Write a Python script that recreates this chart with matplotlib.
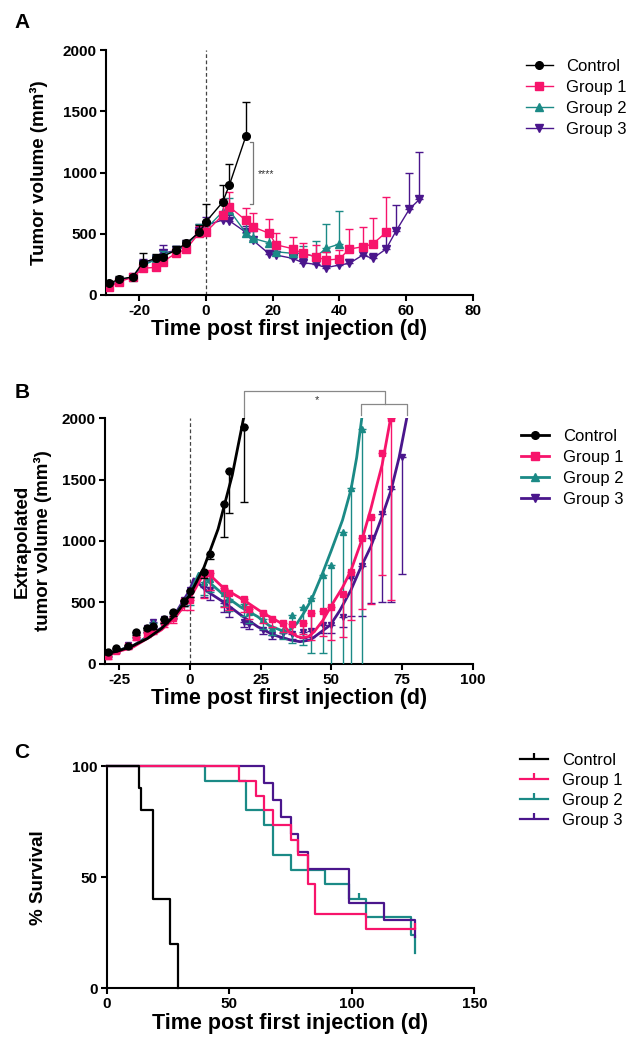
import numpy as np
import matplotlib
matplotlib.use('Agg')
import matplotlib.pyplot as plt
from matplotlib.lines import Line2D
from matplotlib.path import Path

plt.rcParams['font.family'] = ['Liberation Sans', 'DejaVu Sans']
plt.rcParams['axes.unicode_minus'] = False

# colours
c_ctrl = '#000000'
c_g1 = '#F7146B'
c_g2 = '#1B8A86'
c_g3 = '#4A168C'

# ---------------- panel A data (mean and top of error bar) ----------------
t_ctrl_a = [-29, -26, -22, -19, -15, -13, -9, -6, -2, 0, 5, 7, 12]
ctrl_a = [95, 130, 147, 264, 299, 313, 367, 421, 511, 598, 758, 897, 1300]
ctrl_a_hi = [115, 155, 165, 345, 335, 330, 400, 445, 570, 742, 897, 1066, 1577]

t_g1_a = [-29, -26, -22, -19, -15, -13, -9, -6, -2, 0, 5, 7, 12, 14, 19, 21, 26, 29, 33, 36, 40, 43, 47, 50, 54]
g1_a = [63, 109, 144, 218, 226, 272, 340, 373, 508, 514, 652, 720, 609, 557, 503, 410, 378, 340, 312, 285, 294, 375, 394, 416, 511]
g1_a_hi = [90, 130, 165, 240, 255, 300, 375, 410, 560, 560, 780, 840, 712, 666, 617, 503, 470, 427, 408, 355, 370, 536, 552, 626, 802]

t_g2_a = [-29, -26, -22, -19, -15, -13, -9, -6, -2, 0, 5, 7, 12, 14, 19, 21, 26, 29, 33, 36, 40]
g2_a = [80, 120, 150, 240, 290, 330, 360, 400, 520, 540, 680, 693, 505, 463, 426, 353, 340, 340, 312, 381, 416]
g2_a_hi = [100, 145, 175, 275, 330, 360, 400, 440, 580, 600, 760, 790, 590, 560, 480, 420, 400, 400, 443, 577, 688]

t_g3_a = [-29, -26, -22, -19, -15, -13, -9, -6, -2, 0, 5, 7, 12, 14, 19, 21, 26, 29, 33, 36, 40, 43, 47, 50, 54, 57, 61, 64]
g3_a = [75, 115, 150, 250, 290, 340, 365, 410, 520, 570, 612, 606, 511, 449, 334, 326, 299, 264, 250, 223, 245, 258, 326, 299, 375, 522, 701, 780]
g3_a_hi = [100, 140, 170, 290, 330, 408, 400, 450, 580, 640, 680, 650, 560, 520, 370, 360, 330, 300, 280, 250, 280, 290, 360, 340, 520, 734, 993, 1166]

# ---------------- panel B data (mean and bottom of error bar) ----------------
t_ctrl_b = [-29, -26, -22, -19, -15, -13, -9, -6, -2, 0, 5, 7, 12, 14, 19]
ctrl_b = [91, 124, 145, 255, 292, 306, 360, 418, 510, 592, 750, 894, 1302, 1571, 1928]
ctrl_b_lo = [80, 110, 130, 235, 270, 285, 330, 390, 470, 540, 700, 850, 1035, 1231, 1316]

t_g1_b = [-29, -26, -22, -19, -15, -13, -9, -6, -2, 0, 5, 7, 12, 14, 19, 21, 26, 29, 33, 36, 40, 43, 47, 50, 54, 57, 61, 64, 68, 71]
g1_b = [59, 104, 144, 219, 250, 272, 340, 369, 508, 518, 731, 741, 614, 573, 524, 442, 410, 361, 328, 320, 328, 410, 428, 459, 567, 750, 1027, 1193, 1716, 2000]
g1_b_lo = [40, 85, 120, 190, 220, 240, 300, 330, 440, 440, 532, 600, 464, 440, 420, 360, 330, 300, 260, 250, 240, 192, 227, 192, 219, 355, 445, 483, 720, 520]

t_g2_b = [-29, -26, -22, -19, -15, -13, -9, -6, -2, 0, 5, 7, 12, 14, 19, 21, 26, 29, 33, 36, 40, 43, 47, 50, 54, 57, 61]
g2_b = [80, 120, 150, 240, 290, 330, 360, 400, 520, 540, 668, 690, 573, 530, 482, 420, 361, 287, 276, 396, 464, 532, 722, 804, 1076, 1430, 1912]
g2_b_lo = [60, 100, 130, 210, 260, 300, 320, 360, 470, 480, 560, 580, 470, 430, 390, 330, 280, 230, 200, 165, 150, 83, 83, -200, -200, -200, -200]

t_g3_b = [-29, -26, -22, -19, -15, -13, -9, -6, -2, 0, 5, 7, 12, 14, 19, 21, 26, 29, 33, 36, 40, 43, 47, 50, 54, 57, 61, 64, 68, 71, 75]
g3_b = [75, 115, 150, 250, 290, 340, 365, 410, 520, 600, 627, 600, 491, 440, 341, 320, 273, 233, 250, 240, 260, 268, 314, 314, 382, 700, 796, 1027, 1220, 1420, 1688]
g3_b_lo = [55, 95, 130, 220, 260, 300, 330, 370, 470, 540, 540, 520, 420, 380, 300, 280, 240, 200, 210, 200, 210, 220, 250, 250, 300, 390, 388, 490, 500, 500, 730]

# fitted (extrapolation) curves
t_ctrl_fit = [-30, -25, -20, -15, -10, -5, 0, 5, 10, 15, 19]
ctrl_fit = [75, 105, 146, 204, 286, 400, 560, 784, 1097, 1536, 2000]
t_g1_fit = [-30, -20, -10, -5, 0, 5.5, 12, 19, 26, 33, 35, 38, 40, 42, 44, 47, 50, 54, 57, 61, 64, 66, 68, 71]
g1_fit = [65, 135, 275, 380, 530, 757, 614, 518, 410, 320, 260, 220, 210, 220, 260, 350, 470, 620, 760, 1020, 1260, 1443, 1620, 2000]
t_g2_fit = [-30, -20, -10, -5, 0, 3.2, 12, 18, 24, 28, 32, 34.4, 36, 38, 40, 43, 47, 50, 54, 57, 59, 60.8]
g2_fit = [70, 145, 285, 400, 570, 736, 559, 460, 382, 310, 273, 262, 285, 330, 400, 520, 740, 920, 1170, 1420, 1680, 2000]
t_g3_fit = [-30, -20, -10, -5, 0, 1.4, 6, 12, 18, 24, 29.6, 35.5, 39, 42.6, 45, 49.7, 53, 57, 60, 64, 68, 71.2, 74, 76.7]
g3_fit = [70, 145, 290, 410, 600, 690, 590, 500, 396, 300, 233, 192, 178, 192, 233, 314, 430, 600, 760, 953, 1200, 1416, 1680, 2000]

# ---------------- panel C data (Kaplan-Meier steps) ----------------
t_ctrl_s = [0, 13, 14, 19, 26, 29]
ctrl_s = [100, 90, 80, 40, 20, 0]
t_g1_s = [0, 54, 61, 64, 68, 75, 78, 82, 85, 106, 126]
g1_s = [100, 93.3, 86.7, 80, 73.3, 66.7, 60, 46.7, 33.3, 26.7, 26.7]
t_g2_s = [0, 40, 57, 64, 68, 75, 89, 99, 106, 124, 126]
g2_s = [100, 93.3, 80, 73.3, 60, 53.3, 46.7, 40, 32, 24, 16]
t_g3_s = [0, 64, 68, 71, 75, 78, 82, 99, 113, 126]
g3_s = [100, 92.3, 84.6, 76.9, 69.2, 61.5, 53.8, 38.5, 30.8, 23.1]
# censored animals
cens_t = [126, 103]
cens_s = [26.7, 40]
cens_c = [c_g1, c_g2]

labels = ['Control', 'Group 1', 'Group 2', 'Group 3']
cols = [c_ctrl, c_g1, c_g2, c_g3]
marks = ['o', 's', '^', 'v']

W, H = 641, 1050
fig = plt.figure(figsize=(W / 100, H / 100), dpi=100)


def px_axes(l, t, r, b):
    return fig.add_axes([l / W, 1 - b / H, (r - l) / W, (b - t) / H])


def style(ax):
    for s in ['top', 'right']:
        ax.spines[s].set_visible(False)
    for s in ['left', 'bottom']:
        ax.spines[s].set_linewidth(1.5)
    ax.tick_params(width=1.5, length=4.5, labelsize=11, pad=2)


def bold_ticks(ax):
    for lab in ax.get_xticklabels() + ax.get_yticklabels():
        lab.set_fontweight('bold')


xlab = 'Time post first injection (d)'
leg_kw = dict(loc='upper left', frameon=False, prop={'size': 12}, handletextpad=0.8, labelspacing=0.36)

# ---------------- A ----------------
axA = px_axes(106, 50, 472.7, 295)
style(axA)
series_a = [(t_g3_a, g3_a, g3_a_hi, 3), (t_g2_a, g2_a, g2_a_hi, 2), (t_g1_a, g1_a, g1_a_hi, 1), (t_ctrl_a, ctrl_a, ctrl_a_hi, 0)]
for t, y, hi, k in series_a:
    y = np.array(y)
    err = [np.zeros(len(y)), np.array(hi) - y]
    axA.errorbar(t, y, yerr=err, color=cols[k], marker=marks[k], ms=5.5, lw=1,
                 elinewidth=1, capsize=3, capthick=1, zorder=3 + (3 - k))
axA.axvline(0, color='#444444', lw=0.9, ls=(0, (3, 2)), zorder=1)
axA.plot([13.3, 14, 14, 13.3], [1250, 1250, 740, 740], color='#777777', lw=0.9)
axA.text(15.5, 990, '****', fontsize=7.5, ha='left', va='center', color='#333333')
axA.set_xlim(-30, 80)
axA.set_ylim(0, 2000)
axA.set_xticks([-20, 0, 20, 40, 60, 80])
axA.set_yticks([0, 500, 1000, 1500, 2000])
axA.set_xlabel(xlab, fontsize=15.5, fontweight='bold', labelpad=1)
axA.set_ylabel('Tumor volume (mm³)', fontsize=13.5, fontweight='bold')
axA.yaxis.set_label_coords(-0.158, 0.5)
bold_ticks(axA)

hA = [Line2D([], [], color=cols[k], marker=marks[k], ms=5.5, lw=1) for k in range(4)]
fig.legend(hA, labels, bbox_to_anchor=(511 / W, 1 - 44 / H), handlelength=1.6, **leg_kw)

# ---------------- B ----------------
axB = px_axes(105, 418.3, 472.6, 663.5)
style(axB)
series_b = [(t_g3_b, g3_b, g3_b_lo, t_g3_fit, g3_fit, 3), (t_g2_b, g2_b, g2_b_lo, t_g2_fit, g2_fit, 2),
            (t_g1_b, g1_b, g1_b_lo, t_g1_fit, g1_fit, 1), (t_ctrl_b, ctrl_b, ctrl_b_lo, t_ctrl_fit, ctrl_fit, 0)]
for t, y, lo, tf, yf, k in series_b:
    y = np.array(y)
    err = [y - np.array(lo), np.zeros(len(y))]
    axB.errorbar(t, y, yerr=err, color=cols[k], marker=marks[k], ms=5, ls='none',
                 elinewidth=1, capsize=3, capthick=1, zorder=3 + (3 - k))
    axB.plot(tf, yf, color=cols[k], lw=2, zorder=3 + (3 - k))
axB.axvline(0, color='#444444', lw=0.9, ls=(0, (3, 2)), zorder=1)
axB.plot([19, 19, 69.1, 69.1], [2000, 2219, 2219, 2118], color='#888888', lw=0.9, clip_on=False)
axB.plot([60.6, 60.6, 76.7, 76.7], [2029, 2118, 2118, 2029], color='#888888', lw=0.9, clip_on=False)
axB.text(45, 2150, '*', fontsize=8, ha='center', va='center', color='#333333')
axB.set_xlim(-30, 100)
axB.set_ylim(0, 2000)
axB.set_xticks([-25, 0, 25, 50, 75, 100])
axB.set_yticks([0, 500, 1000, 1500, 2000])
axB.set_xlabel(xlab, fontsize=15.5, fontweight='bold', labelpad=1)
axB.set_ylabel('Extrapolated\ntumor volume (mm³)', fontsize=13.5, fontweight='bold', linespacing=1.2)
axB.yaxis.set_label_coords(-0.145, 0.5)
bold_ticks(axB)

hB = [Line2D([], [], color=cols[k], marker=marks[k], ms=5.5, lw=2) for k in range(4)]
fig.legend(hB, labels, bbox_to_anchor=(506 / W, 1 - 414 / H), handlelength=1.7, **leg_kw)

# ---------------- C ----------------
axC = px_axes(106.7, 766, 474.3, 988.3)
style(axC)
tick = Path([(0, 0), (0, 1)], [Path.MOVETO, Path.LINETO])
series_c = [(t_g2_s, g2_s, 2, 2), (t_g3_s, g3_s, 3, 3), (t_g1_s, g1_s, 1, 4), (t_ctrl_s, ctrl_s, 0, 5)]
for t, s, k, z in series_c:
    axC.step(t, s, where='post', color=cols[k], lw=1.6, zorder=z, clip_on=False)
for t, s, c in zip(cens_t, cens_s, cens_c):
    axC.plot([t], [s], color=c, marker=tick, ms=9, mew=1.6, ls='none', zorder=6)
axC.set_xlim(0, 150)
axC.set_ylim(0, 100)
axC.set_xticks([0, 50, 100, 150])
axC.set_yticks([0, 50, 100])
axC.set_xlabel(xlab, fontsize=15.5, fontweight='bold', labelpad=1)
axC.set_ylabel('% Survival', fontsize=13.5, fontweight='bold')
axC.yaxis.set_label_coords(-0.162, 0.5)
bold_ticks(axC)

hC = [Line2D([], [], color=cols[k], marker=tick, ms=9, mew=1.6, lw=1.6) for k in range(4)]
fig.legend(hC, labels, bbox_to_anchor=(505 / W, 1 - 738 / H), handlelength=1.7,
           loc='upper left', frameon=False, prop={'size': 12}, handletextpad=0.8, labelspacing=0.3)

# panel letters
for lab, y in [('A', 23), ('B', 393), ('C', 752)]:
    fig.text(22 / W, 1 - y / H, lab, fontsize=15, fontweight='bold', ha='center', va='center')

fig.savefig('out.png', dpi=100)
